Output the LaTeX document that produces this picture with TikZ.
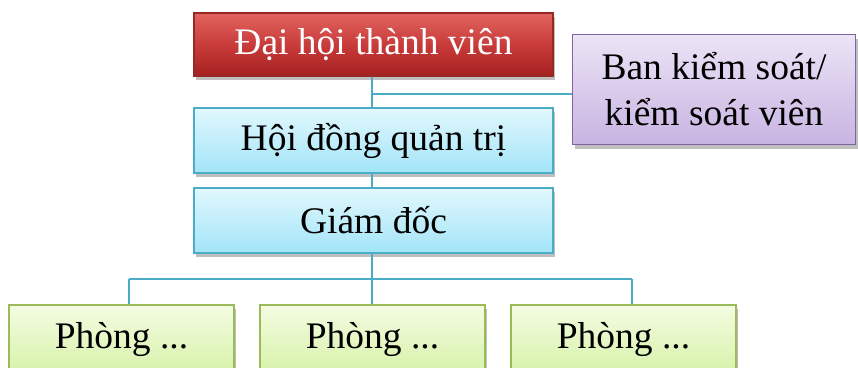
\documentclass[tikz,border=0pt]{standalone}
\usepackage{fontspec}
\setmainfont{Liberation Serif}
\usetikzlibrary{shadows}
\definecolor{conn}{RGB}{75,172,198}
\definecolor{redtop}{RGB}{226,100,96}
\definecolor{redmid}{RGB}{200,60,58}
\definecolor{redbot}{RGB}{165,32,32}
\definecolor{redline}{RGB}{150,40,38}
\definecolor{bluetop}{RGB}{226,248,253}
\definecolor{bluebot}{RGB}{162,228,248}
\definecolor{blueline}{RGB}{75,172,198}
\definecolor{purtop}{RGB}{236,228,246}
\definecolor{purbot}{RGB}{200,180,226}
\definecolor{purline}{RGB}{128,100,162}
\definecolor{grntop}{RGB}{244,252,226}
\definecolor{grnbot}{RGB}{214,242,168}
\definecolor{grnline}{RGB}{155,187,89}
\tikzset{
  box/.style={rectangle, inner sep=0pt, line width=1.2pt, align=center,
    font=\fontsize{37.5}{46}\selectfont,
    drop shadow={shadow xshift=2pt, shadow yshift=-4pt, opacity=0.25, fill=black}},
  redbox/.style={box, draw=redline, top color=redtop, bottom color=redbot, middle color=redmid, text=white},
  bluebox/.style={box, draw=blueline, top color=bluetop, bottom color=bluebot},
  purbox/.style={box, draw=purline, top color=purtop, bottom color=purbot},
  grnbox/.style={box, draw=grnline, top color=grntop, bottom color=grnbot},
  link/.style={draw=conn, line width=1.5pt}
}
\begin{document}
\begin{tikzpicture}[x=1pt, y=-1pt]
\useasboundingbox (0,0) rectangle (858,367);
\coordinate (j1) at (372,94);
\coordinate (bus) at (372,279);
\coordinate (busL) at (129,279);
\coordinate (busR) at (632,279);

\node[redbox, minimum width=359pt, minimum height=63pt] (dh) at (373.5,44.5) {Đại hội thành viên};
\node[purbox, minimum width=283pt, minimum height=110pt] (bks) at (714,89.5) {Ban kiểm soát/\\kiểm soát viên};
\node[bluebox, minimum width=359pt, minimum height=65pt] (hdqt) at (373.5,140.5) {Hội đồng quản trị};
\node[bluebox, minimum width=359pt, minimum height=65pt] (gd) at (373.5,220.5) {Giám đốc};
\node[grnbox, minimum width=225pt, minimum height=70pt] (p1) at (121.5,340) {Phòng ...};
\node[grnbox, minimum width=225pt, minimum height=70pt] (p2) at (372.5,340) {Phòng ...};
\node[grnbox, minimum width=225pt, minimum height=70pt] (p3) at (623.5,340) {Phòng ...};

\draw[link] (dh.south -| j1) -- (hdqt.north -| j1);
\draw[link] (j1) -- (bks.west |- j1);
\draw[link] (hdqt.south -| j1) -- (gd.north -| j1);
\draw[link] (gd.south -| bus) -- (p2.north -| bus);
\draw[link] (busL) -- (busR);
\draw[link] (busL) -- (p1.north -| busL);
\draw[link] (busR) -- (p3.north -| busR);
\end{tikzpicture}
\end{document}
